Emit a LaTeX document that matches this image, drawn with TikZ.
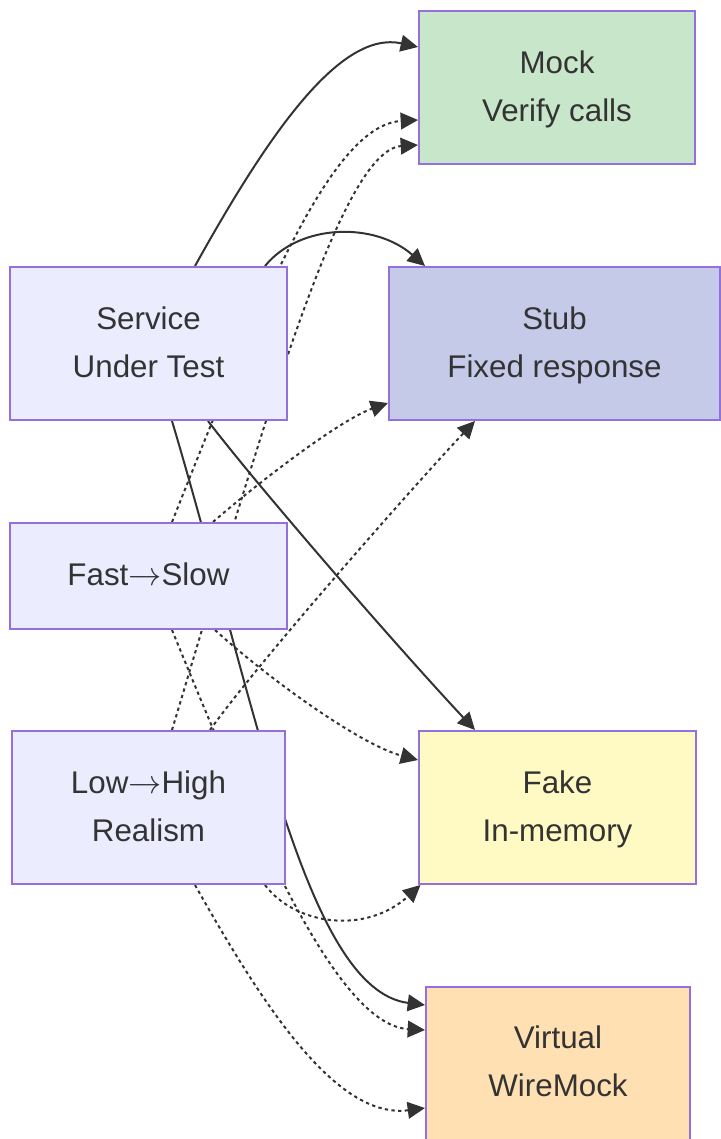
\documentclass[tikz,border=0pt]{standalone}
\usepackage{fontspec}
\setmainfont{Liberation Sans}
\usepackage{tikz}
\usetikzlibrary{
	arrows.meta,
	calc,
	backgrounds,
	positioning
}
\definecolor{inkgray}{HTML}{333333}
\definecolor{boxline}{HTML}{9370DB}
\definecolor{leftfill}{HTML}{ECECFF}
\definecolor{mockfill}{HTML}{C8E6C9}
\definecolor{stubfill}{HTML}{C5CAE9}
\definecolor{fakefill}{HTML}{FFF9C4}
\definecolor{virtfill}{HTML}{FFE0B2}
\newcommand{\toarrow}{$\rightarrow$}

\begin{document}
\begin{tikzpicture}[x=0.75pt, y=-0.75pt,
		box/.style={draw=boxline, line width=1.5pt, text=inkgray, align=center, inner sep=0pt,
			font=\fontsize{23.5}{36}\selectfont},
		link/.style={draw=inkgray, line width=1.5pt, -{Triangle[length=13pt,width=12.5pt]}},
		dotlink/.style={link, dash pattern=on 2.5pt off 2.5pt}]
		\useasboundingbox (0,0) rectangle (721,1139);
		\node[box, fill=mockfill, minimum width=207pt, minimum height=114.75pt] (mock) at (557,87.5) {\strut Mock\\\strut Verify calls};
		\node[box, fill=stubfill, minimum width=248.25pt, minimum height=114.75pt] (stub) at (554.5,343.5) {\strut Stub\\\strut Fixed response};
		\node[box, fill=fakefill, minimum width=207.75pt, minimum height=114.75pt] (fake) at (557.5,807.5) {\strut Fake\\\strut In-memory};
		\node[box, fill=virtfill, minimum width=198pt, minimum height=114.75pt] (virt) at (558,1063) {\strut Virtual\\\strut WireMock};
		\node[box, fill=leftfill, minimum width=207.75pt, minimum height=114.75pt] (svc) at (148.5,343.5) {\strut Service\\\strut Under Test};
		\node[box, fill=leftfill, minimum width=207.75pt, minimum height=79.5pt] (fast) at (148.5,576) {\strut Fast\toarrow Slow};
		\node[box, fill=leftfill, minimum width=204.75pt, minimum height=114.75pt] (low) at (148.5,807.5) {\strut Low\toarrow High\\\strut Realism};
		\begin{scope}[on background layer]
			\draw[link] ($(svc.north)+(46.5,0)$) .. controls +(75,-135) and +(-77,-17) .. ($(mock.west)+(0,-40.5)$);
			\draw[link] ($(svc.north)+(116.5,0)$) .. controls +(35,-43) and +(-50,-44) .. ($(stub.north)+(-129.5,0)$);
			\draw[link] ($(svc.south)+(59.5,0)$) .. controls +(52,68) and +(-75,-80) .. ($(fake.north)+(-82.5,0)$);
			\draw[link] ($(svc.south)+(23.5,0)$) .. controls +(83,278) and +(-120,-15) .. ($(virt.west)+(0,-58)$);
			\draw[dotlink] ($(fast.north)+(23.5,0)$) .. controls +(88,-221) and +(-87,5) .. ($(mock.west)+(0,32.5)$);
			\draw[dotlink] ($(fast.north)+(64.5,0)$) .. controls +(47,-41) and +(-48,17) .. ($(stub.west)+(0,59.5)$);
			\draw[dotlink] ($(fast.south)+(66.5,0)$) .. controls +(55,50) and +(-57,-15) .. ($(fake.west)+(0,-47.5)$);
			\draw[dotlink] ($(fast.south)+(23.5,0)$) .. controls +(78,190) and +(-90,-5) .. ($(virt.west)+(0,-33)$);
			\draw[dotlink] ($(low.north)+(23.5,0)$) .. controls +(93,-310) and +(-77,5) .. ($(mock.west)+(0,57.5)$);
			\draw[dotlink] ($(low.north)+(61.5,0)$) .. controls +(50,-70) and +(-55,58) .. ($(stub.south)+(-79.5,0)$);
			\draw[dotlink] ($(low.south)+(116.5,0)$) .. controls +(30,40) and +(-55,50) .. ($(fake.south)+(-137,0)$);
			\draw[dotlink] ($(low.south)+(46.5,0)$) .. controls +(65,115) and +(-90,12) .. ($(virt.west)+(0,45)$);
		\end{scope}
	\end{tikzpicture}
\end{document}
